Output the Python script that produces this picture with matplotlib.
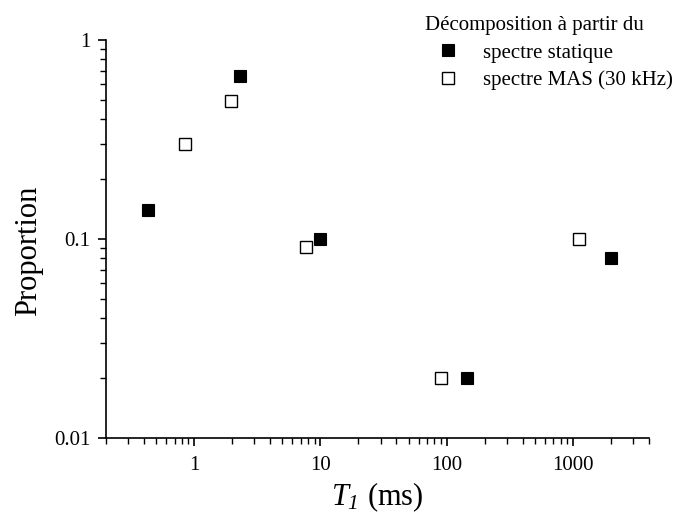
import matplotlib
matplotlib.use("Agg")
import matplotlib.pyplot as plt
from matplotlib.ticker import FixedLocator, FixedFormatter, LogLocator, NullFormatter

plt.rcParams['font.family'] = ['Liberation Serif', 'DejaVu Serif']
plt.rcParams['mathtext.fontset'] = 'custom'
plt.rcParams['mathtext.rm'] = 'Liberation Serif'
plt.rcParams['mathtext.it'] = 'Liberation Serif:italic'
plt.rcParams['mathtext.sf'] = 'Liberation Serif:italic'  # pour l'indice 1 en italique

# ---- données ----
t1_statique = [0.43, 2.3, 10, 145, 2000]
prop_statique = [0.14, 0.66, 0.10, 0.02, 0.08]

t1_mas = [0.85, 1.96, 7.7, 90, 1120]
prop_mas = [0.30, 0.49, 0.091, 0.02, 0.10]

x_ticks = [1, 10, 100, 1000]
x_labels = ["1", "10", "100", "1000"]
y_ticks = [0.01, 0.1, 1]
y_labels = ["0.01", "0.1", "1"]

fig = plt.figure(figsize=(6.83, 5.16), dpi=100)
ax = fig.add_axes([0.155, 0.151, 0.795, 0.772])

ax.plot(t1_statique, prop_statique, 's', color='black', markersize=8.5,
        markeredgewidth=0.8, label='spectre statique')
ax.plot(t1_mas, prop_mas, 's', markerfacecolor='white', markeredgecolor='black',
        markersize=8.5, markeredgewidth=1.0, label='spectre MAS (30 kHz)')

ax.set_xscale('log')
ax.set_yscale('log')
ax.set_xlim(0.2, 4000)
ax.set_ylim(0.01, 1)

ax.xaxis.set_major_locator(FixedLocator(x_ticks))
ax.xaxis.set_major_formatter(FixedFormatter(x_labels))
ax.yaxis.set_major_locator(FixedLocator(y_ticks))
ax.yaxis.set_major_formatter(FixedFormatter(y_labels))
ax.xaxis.set_minor_locator(LogLocator(base=10, subs=range(2, 10)))
ax.yaxis.set_minor_locator(LogLocator(base=10, subs=range(2, 10)))
ax.xaxis.set_minor_formatter(NullFormatter())
ax.yaxis.set_minor_formatter(NullFormatter())

for s in ['top', 'right']:
    ax.spines[s].set_visible(False)
ax.spines['left'].set_linewidth(1.2)
ax.spines['bottom'].set_linewidth(1.2)

ax.tick_params(which='major', direction='out', length=6, width=1.2, labelsize=15)
ax.tick_params(axis='x', which='major', pad=7)
ax.tick_params(axis='y', which='major', pad=5)
ax.tick_params(which='minor', direction='out', length=4, width=1.0)

ax.set_xlabel(r"$T_\mathsf{1}$ (ms)", fontsize=22, labelpad=4)
ax.set_ylabel("Proportion", fontsize=22)
ax.yaxis.set_label_coords(-0.115, 0.47)

leg = ax.legend(loc='upper left', bbox_to_anchor=(0.572, 1.08), frameon=False,
                title="Décomposition à partir du", fontsize=15, title_fontsize=15,
                handletextpad=0.6, borderaxespad=0, labelspacing=0.38,
                handlelength=2.2)
leg._legend_box.align = "left"

fig.savefig("out.png", dpi=100)
